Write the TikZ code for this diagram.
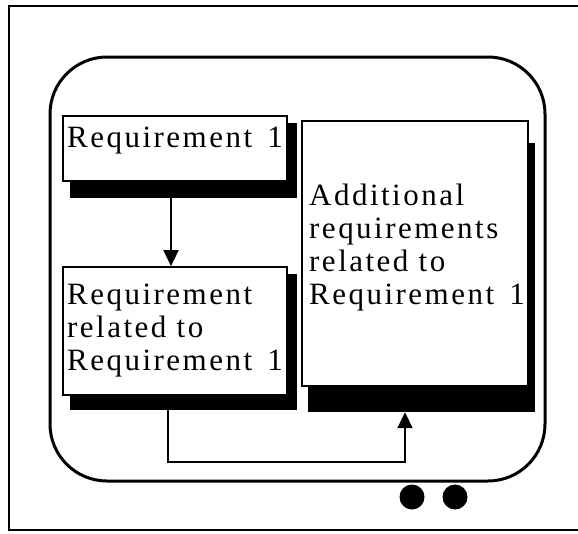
\documentclass[tikz,border=0pt]{standalone}
\usepackage{fontspec}
\setmainfont{Liberation Serif}[LetterSpace=8]
\usetikzlibrary{arrows.meta}
\tikzset{
  frameline/.style={line width=2pt},
  screenline/.style={line width=3pt},
  card/.style={draw, fill=white, line width=1.8pt, inner sep=0pt, rectangle},
  cardshadow/.style={fill=black, draw=none, inner sep=0pt, rectangle},
  % base west of a multi-line node sits on the last line's baseline
  cardtext/.style={anchor=base west, inner sep=0pt, align=left,
    font=\fontsize{31pt}{33pt}\selectfont},
  link/.style={line width=1.9pt, -{Triangle[width=15pt,length=16pt]}},
  knob/.style={fill=black, draw=none}
}
\begin{document}
\begin{tikzpicture}[x=1pt,y=-1pt]
  \useasboundingbox (0,0) rectangle (578,533);
  % outer frame, running off the right edge
  \draw[frameline] (600,6) -- (9,6) -- (9,530) -- (600,530);
  % rounded screen
  \draw[screenline, rounded corners=57pt] (50,57) rectangle (545,481);

  % shadows
  \node[cardshadow, minimum width=227pt, minimum height=75pt] (s1) at (183.5,160.5) {};
  \node[cardshadow, minimum width=227pt, minimum height=269pt] (s2) at (421.5,277.5) {};
  \node[cardshadow, minimum width=227pt, minimum height=136pt] (s3) at (183.5,342) {};

  % cards
  \node[card, minimum width=224pt, minimum height=65pt] (b1) at (175,148.5) {};
  \node[card, minimum width=226pt, minimum height=265pt] (b2) at (415,253.5) {};
  \node[card, minimum width=224pt, minimum height=128pt] (b3) at (175,331) {};

  % card texts
  \node[cardtext] (t1) at (67,147) {Requirement\hspace{5pt} 1};
  \node[cardtext] (t2) at (309,304) {Additional\\requirements\\related to\\Requirement\hspace{5pt} 1};
  \node[cardtext] (t3) at (67,370) {Requirement\\related to\\Requirement\hspace{5pt} 1};

  % connectors
  \coordinate (c1) at (171,0);
  \draw[link] (s1.south -| c1) -- (b3.north -| c1);
  \coordinate (c2) at (168,462);
  \coordinate (c3) at (405,462);
  \draw[link] (s3.south -| c2) -- (c2) -- (c3) -- (s2.south -| c3);

  % knobs
  \fill[knob] (412,497) circle (12.5pt);
  \fill[knob] (455,497) circle (12.5pt);
\end{tikzpicture}
\end{document}
